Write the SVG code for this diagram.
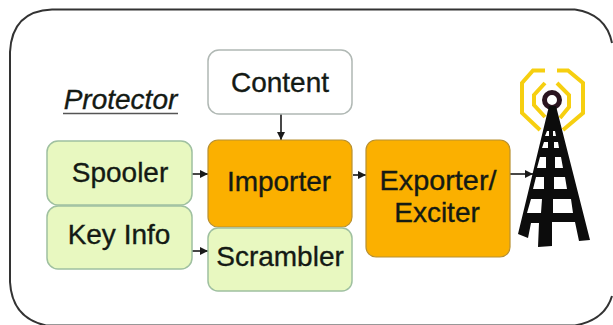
<svg xmlns="http://www.w3.org/2000/svg" width="613" height="325" viewBox="0 0 613 325">
<style>
text{font-family:"Liberation Sans",Arial,sans-serif;fill:#141a14;font-size:28px;text-anchor:middle;stroke:#141a14;stroke-width:.35}
.g{fill:#e8f8c0;stroke:#9fc0a0;stroke-width:1.5}
.o{fill:#fbb000;stroke:#b89030;stroke-width:1.2}
.w{fill:#fff;stroke:#b0b8b4;stroke-width:1.5}
.c{stroke:#1a1a1a;stroke-width:1.6;fill:none;marker-end:url(#a)}
.y{fill:none;stroke:#f6cf10;stroke-width:4}
</style>
<defs><marker id="a" markerUnits="userSpaceOnUse" markerWidth="9" markerHeight="9" refX="8" refY="4" orient="auto"><path d="M0 0L8 4L0 8z" fill="#1a1a1a"/></marker></defs>
<rect width="613" height="325" fill="#fff"/>
<path d="M575 9.500H52Q12 11 10 52V282Q12 318 46 325.500H575Q605 320 612 296M575 9.500Q606 14 612 43" fill="none" stroke="#333" stroke-width="2"/>
<g id="connectors">
<path class="c" d="M281 114V140"/>
<path class="c" d="M192 174H208"/>
<path class="c" d="M192 251H208"/>
<path class="c" d="M353 175H366"/>
<path class="c" d="M510 174H533"/>
</g>
<g id="protector"><text x="120.500" y="109" style="font-style:italic">Protector</text><path d="M63 113.500H178" stroke="#555" stroke-width="1.500"/></g>
<g id="content"><rect class="w" x="208" y="50" width="144" height="64" rx="11"/><text x="280" y="92">Content</text></g>
<g id="spooler"><rect class="g" x="47" y="141" width="145" height="64" rx="11"/><text x="120" y="182">Spooler</text></g>
<g id="keyinfo"><rect class="g" x="47" y="206" width="145" height="63" rx="11"/><text x="119" y="244">Key Info</text></g>
<g id="importer"><rect class="o" x="208" y="140" width="144" height="87" rx="10"/><text x="279" y="191">Importer</text></g>
<g id="scrambler"><rect class="g" x="208" y="228" width="144" height="63" rx="10"/><text x="280" y="266">Scrambler</text></g>
<g id="exporter"><rect class="o" x="366" y="140" width="144" height="117" rx="10"/><text x="438" y="190" textLength="117" lengthAdjust="spacingAndGlyphs">Exporter/</text><text x="437" y="222">Exciter</text></g>
<g id="tower">
<path class="y" d="M545 70.500H533L522 83V113L540 130M557 70.500H568L583 83V113L563 130M545 83L534 95V105L545 117M557 83L569 95V107L560 118"/>
<circle cx="552" cy="100" r="7.500" fill="#fff" stroke="#2a1420" stroke-width="5"/>
<path d="M549 106H556L590 240L579 241L575 222H552V246L538 247L539 223H531L528 238L518 234ZM547 131L545 136L549 136V131ZM553 131V136H556L555 131ZM544 142L542 148L548 148V142ZM554 142V148H559L558 142ZM540 157L537 168L546 168V157ZM555 157V168H563L561 157ZM536 177L533 189L544 189V177ZM554 177V189H567L565 177ZM531 199L527 213L541 213L542 199ZM553 199V213H573L571 199Z" fill="#0c0c0c" fill-rule="evenodd"/>
</g>
</svg>
